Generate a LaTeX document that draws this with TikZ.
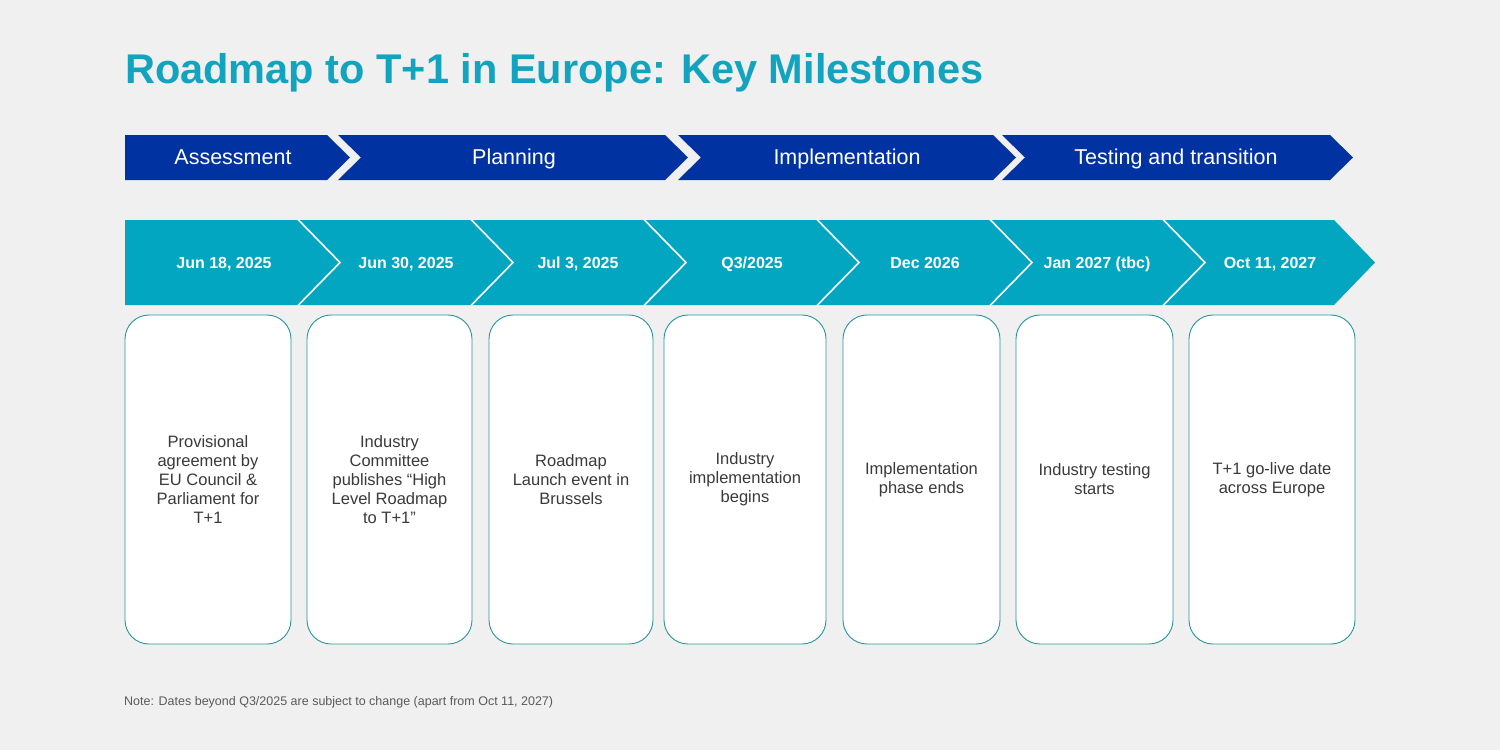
\documentclass[tikz,border=0pt]{standalone}
\usepackage{fontspec}
\setmainfont{Liberation Sans}
\definecolor{bgc}{HTML}{F0F0F0}
\definecolor{titlec}{HTML}{12A3BE}
\definecolor{phasec}{HTML}{0033A1}
\definecolor{datec}{HTML}{03A6C0}
\definecolor{cardline}{HTML}{2A949E}
\definecolor{txtc}{HTML}{3A3A3A}
\definecolor{notec}{HTML}{5A5A5A}
\begin{document}
\begin{tikzpicture}[x=1pt,y=-1pt,
  phaselbl/.style={text=white,font=\fontsize{21.5}{24}\selectfont,anchor=base,inner sep=0pt},
  datelbl/.style={text=white,font=\fontsize{16}{18}\selectfont\bfseries,anchor=base,inner sep=0pt},
  card/.style={draw=cardline,line width=0.9pt,fill=white,rounded corners=24pt,minimum height=329pt,inner sep=0pt,align=center,text=txtc,font=\fontsize{16.5}{19}\selectfont},
  sep/.style={draw=white,line width=1.6pt}]
\useasboundingbox (0,0) rectangle (1500,750);
\fill[bgc] (0,0) rectangle (1500,750);
% title
\node[anchor=base west,inner sep=0pt,text=titlec,font=\fontsize{41.5}{48}\selectfont\bfseries] (title) at (125,83) {Roadmap to T+1 in Europe: Key Milestones};
% phase chevrons
\fill[phasec] (125,135) -- (327,135) -- (350,157.5) -- (327,180) -- (125,180) -- cycle;
\fill[phasec] (338,135) -- (665,135) -- (688,157.5) -- (665,180) -- (338,180) -- (361,157.5) -- cycle;
\fill[phasec] (678,135) -- (993,135) -- (1016,157.5) -- (993,180) -- (678,180) -- (701,157.5) -- cycle;
\fill[phasec] (1002,135) -- (1330,135) -- (1353,157.5) -- (1330,180) -- (1002,180) -- (1025,157.5) -- cycle;
\node[phaselbl] (p1) at (233,164.5) {Assessment};
\node[phaselbl] (p2) at (514,164.5) {Planning};
\node[phaselbl] (p3) at (847,164.5) {Implementation};
\node[phaselbl] (p4) at (1176,164.5) {Testing and transition};
% date band
\fill[datec] (125,220) -- (1334,220) -- (1375,262.5) -- (1334,305) -- (125,305) -- cycle;
\foreach \x in {298,471,644,817,990,1163}{
  \draw[sep] (\x,219.5) -- (\x+42,262.5) -- (\x,305.5);
}
\node[datelbl] (d1) at (224,268) {Jun 18, 2025};
\node[datelbl] (d2) at (406,268) {Jun 30, 2025};
\node[datelbl] (d3) at (578,268) {Jul 3, 2025};
\node[datelbl] (d4) at (752,268) {Q3/2025};
\node[datelbl] (d5) at (925,268) {Dec 2026};
\node[datelbl] (d6) at (1097,268) {Jan 2027 (tbc)};
\node[datelbl] (d7) at (1270,268) {Oct 11, 2027};
% cards
\node[card,minimum width=166pt] (c1) at (208,479.5) {Provisional\\agreement by\\EU Council \&\\Parliament for\\T+1};
\node[card,minimum width=165pt] (c2) at (389.5,479.5) {Industry\\Committee\\publishes “High\\Level Roadmap\\to T+1”};
\node[card,minimum width=164pt] (c3) at (571,479.5) {Roadmap\\Launch event in\\Brussels};
\node[card,minimum width=162pt] (c4) at (745,479.5) {Industry\\implementation\\begins};
\node[card,minimum width=157pt] (c5) at (921.5,479.5) {Implementation\\phase ends};
\node[card,minimum width=157pt] (c6) at (1094.5,479.5) {Industry testing\\starts};
\node[card,minimum width=166pt] (c7) at (1272,479.5) {T+1 go-live date\\across Europe};
% note
\node[anchor=base west,inner sep=0pt,text=notec,font=\fontsize{12.5}{14}\selectfont] (note) at (124,705) {Note: Dates beyond Q3/2025 are subject to change (apart from Oct 11, 2027)};
\end{tikzpicture}
\end{document}
